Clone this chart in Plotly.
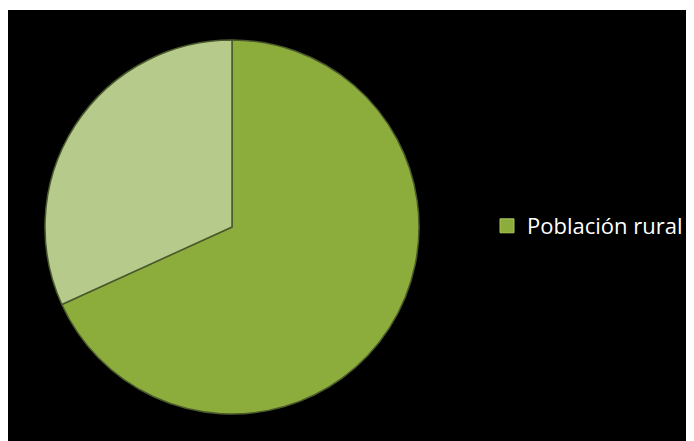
import plotly.graph_objects as go

# Data
labels = ["Población rural", "Población urbana"]
values = [68.2, 31.8]
slice_colors = ["#8CAD3C", "#B6CA8C"]
legend_labels = ["Población rural"]

W, H = 686, 433

fig = go.Figure()

fig.add_trace(go.Pie(
    labels=labels,
    values=values,
    sort=False,
    direction="clockwise",
    rotation=0,
    textinfo="none",
    hoverinfo="label+percent",
    showlegend=False,
    marker=dict(colors=slice_colors, line=dict(color="#4A5A2C", width=1.5)),
    domain=dict(x=[37 / W, 411 / W], y=[27 / H, 401 / H]),
))

# Legend entry (only the first series is shown in the reference legend)
fig.add_trace(go.Scatter(
    x=[None], y=[None],
    mode="markers",
    name=legend_labels[0],
    marker=dict(symbol="square", size=14, color=slice_colors[0],
                line=dict(color="#A9C65A", width=1)),
    showlegend=True,
))

fig.update_layout(
    width=W, height=H,
    margin=dict(l=0, r=0, t=0, b=0),
    paper_bgcolor="white",
    plot_bgcolor="rgba(0,0,0,0)",
    xaxis=dict(visible=False),
    yaxis=dict(visible=False),
    shapes=[dict(type="rect", xref="paper", yref="paper",
                 x0=0, x1=1, y0=0, y1=1 - 2 / H,
                 fillcolor="black", line=dict(width=0), layer="below")],
    legend=dict(
        x=479 / W, y=1 - 218 / H, xanchor="left", yanchor="middle",
        bgcolor="rgba(0,0,0,0)",
        font=dict(family="Open Sans", size=22, color="white"),
    ),
)

fig.write_html("out.html")
